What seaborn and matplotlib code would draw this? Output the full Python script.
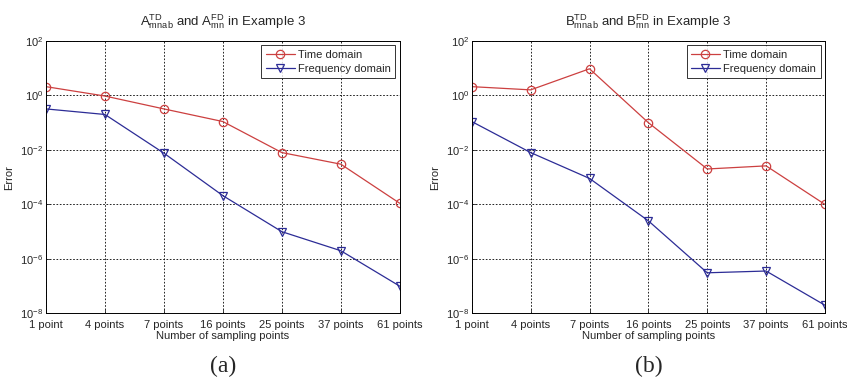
import matplotlib
matplotlib.use('Agg')

import numpy as np
import pandas as pd
import matplotlib.pyplot as plt
import seaborn as sns

# Datos (error vs número de puntos de muestreo)
point_labels = ["1 point", "4 points", "7 points", "16 points",
                "25 points", "37 points", "61 points"]

a_time = [2.1, 0.95, 0.32, 0.11, 0.008, 0.003, 1.1e-4]
a_freq = [0.32, 0.2, 0.0076, 2.1e-4, 1.0e-5, 2.0e-6, 1.0e-7]

b_time = [2.1, 1.6, 9.5, 0.1, 0.002, 0.0026, 1.0e-4]
b_freq = [0.11, 0.008, 0.0009, 2.5e-5, 3.1e-7, 3.6e-7, 2.0e-8]

titles = [r"$\mathregular{A^{TD}_{mnab}}$ and $\mathregular{A^{FD}_{mn}}$ in Example 3",
          r"$\mathregular{B^{TD}_{mnab}}$ and $\mathregular{B^{FD}_{mn}}$ in Example 3"]
panel_tags = ["(a)", "(b)"]

RED = '#cc4040'
BLUE = '#2c2c96'


def draw_panel(ax, time_vals, freq_vals, title):
    df = pd.DataFrame({
        'idx': list(range(len(point_labels))) * 2,
        'err': time_vals + freq_vals,
        'serie': ['Time domain'] * len(time_vals) + ['Frequency domain'] * len(freq_vals),
    })
    sns.lineplot(data=df[df.serie == 'Time domain'], x='idx', y='err', ax=ax,
                 color=RED, lw=0.9, marker='o', markersize=6,
                 markerfacecolor='none', markeredgecolor=RED, markeredgewidth=0.9,
                 label='Time domain')
    sns.lineplot(data=df[df.serie == 'Frequency domain'], x='idx', y='err', ax=ax,
                 color=BLUE, lw=0.9, marker='v', markersize=6,
                 markerfacecolor='none', markeredgecolor=BLUE, markeredgewidth=0.9,
                 label='Frequency domain')
    ax.set_yscale('log')
    ax.set_ylim(1e-8, 1e2)
    ax.set_xlim(0, len(point_labels) - 1)
    ax.set_yticks([1e-8, 1e-6, 1e-4, 1e-2, 1e0, 1e2])
    ax.yaxis.set_minor_locator(matplotlib.ticker.NullLocator())
    ax.set_xticks(range(len(point_labels)))
    ax.set_xticklabels(point_labels)
    ax.tick_params(direction='in', length=3, labelsize=8, width=0.6, pad=2)
    ax.tick_params(axis='x', pad=5)
    ax.grid(True, color='black', linestyle=(0, (2, 2)), linewidth=0.6)
    for s in ax.spines.values():
        s.set_color('black')
        s.set_linewidth(0.7)
    ax.set_xlabel('Number of sampling points', fontsize=8, labelpad=0.5)
    ax.set_ylabel('Error', fontsize=8, labelpad=4)
    ax.set_title(title, fontsize=9.5, pad=11)
    leg = ax.legend(loc='upper right', fontsize=8, frameon=True, fancybox=False,
                    edgecolor='black', borderpad=0.4, labelspacing=0.35,
                    handlelength=2.6, handletextpad=0.3, borderaxespad=0.4)
    leg.get_frame().set_linewidth(0.7)


sns.set_style('ticks')
plt.rcParams['font.family'] = ['Liberation Sans', 'DejaVu Sans']
plt.rcParams['mathtext.default'] = 'regular'

fig = plt.figure(figsize=(8.47, 3.79), dpi=100)
ax_a = fig.add_axes([0.0543, 0.173, 0.4177, 0.719])
ax_b = fig.add_axes([0.557, 0.173, 0.417, 0.719])

draw_panel(ax_a, a_time, a_freq, titles[0])
draw_panel(ax_b, b_time, b_freq, titles[1])

for ax, tag in zip([ax_a, ax_b], panel_tags):
    pos = ax.get_position()
    fig.text((pos.x0 + pos.x1) / 2, 0.006, tag, ha='center', va='bottom',
             fontsize=17, family=['Liberation Serif', 'DejaVu Serif'])

fig.savefig('out.png', dpi=100)
